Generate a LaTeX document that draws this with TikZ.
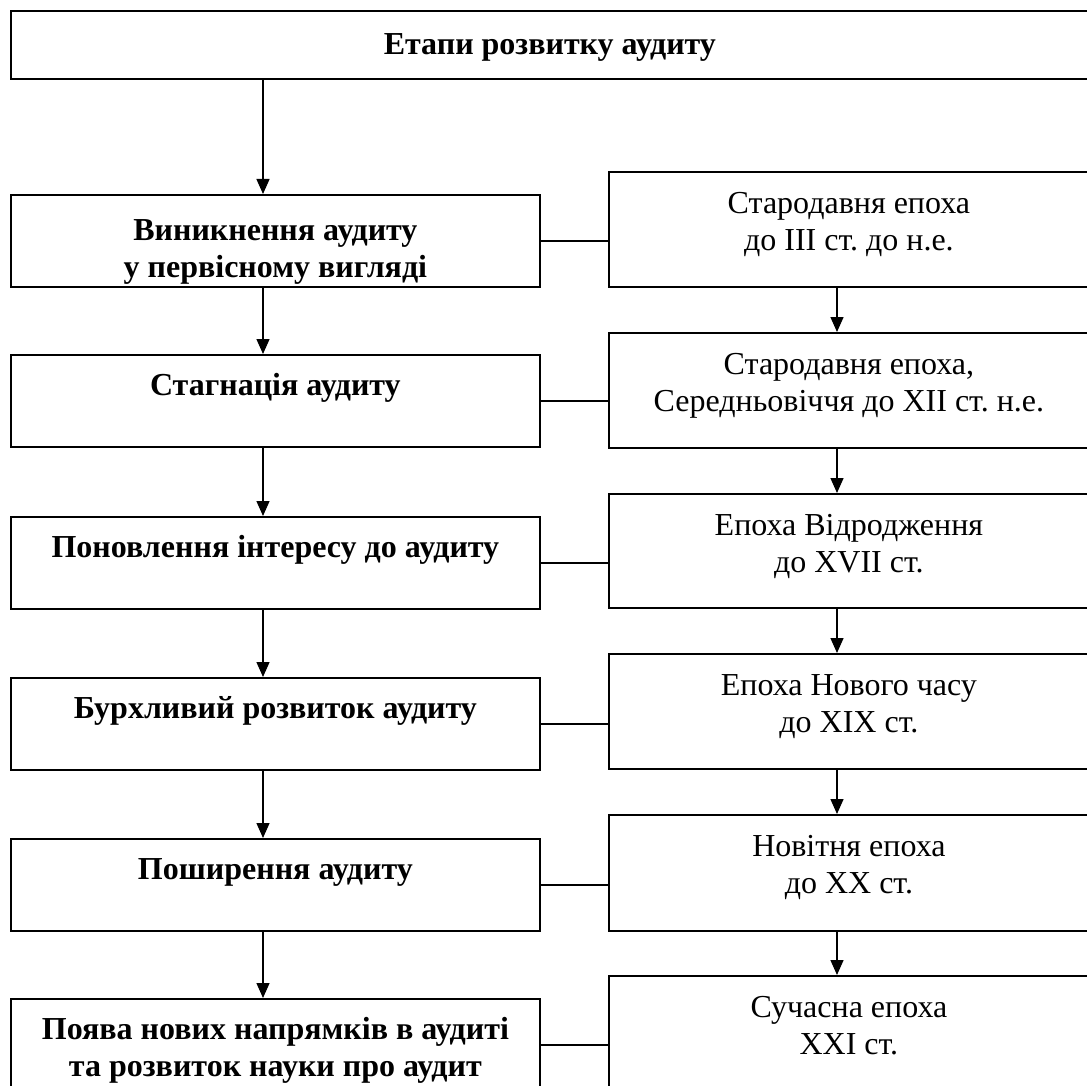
\documentclass[tikz,border=0pt]{standalone}
\usepackage{fontspec}
\setmainfont{Liberation Serif}
\usetikzlibrary{arrows.meta,calc}
\frenchspacing
\begin{document}
\begin{tikzpicture}[x=1pt,y=-1pt,
  boxstyle/.style={draw, line width=1.8pt, rectangle, inner sep=0pt, anchor=north west},
  txt/.style={anchor=north, inner sep=0pt, align=center, font=\fontsize{32}{37.5}\selectfont,
    execute at begin node=\rule{0pt}{24pt}},
  btxt/.style={txt, font=\fontsize{32}{37.5}\selectfont\bfseries},
  arr/.style={line width=1.4pt, -{Triangle[length=15pt,width=13pt]}},
  conn/.style={line width=2pt}]
\useasboundingbox (0,0) rectangle (1087,1086);
\clip (0,0) rectangle (1087,1086);
% top box
\node[boxstyle, minimum width=1078pt, minimum height=68pt] (top) at (10,10) {};
\node[btxt] (ttop) at ($(top.north)+(0,20)$) {Етапи розвитку аудиту};
% left boxes
\node[boxstyle, minimum width=529pt, minimum height=92pt] (L1) at (10,194) {};
\node[boxstyle, minimum width=529pt, minimum height=92pt] (L2) at (10,354) {};
\node[boxstyle, minimum width=529pt, minimum height=92pt] (L3) at (10,516) {};
\node[boxstyle, minimum width=529pt, minimum height=92pt] (L4) at (10,677) {};
\node[boxstyle, minimum width=529pt, minimum height=92pt] (L5) at (10,838) {};
\node[boxstyle, minimum width=529pt, minimum height=92pt] (L6) at (10,998) {};
% right boxes
\node[boxstyle, minimum width=480pt, minimum height=115pt] (R1) at (608,171) {};
\node[boxstyle, minimum width=480pt, minimum height=115pt] (R2) at (608,332) {};
\node[boxstyle, minimum width=480pt, minimum height=114pt] (R3) at (608,493) {};
\node[boxstyle, minimum width=480pt, minimum height=115pt] (R4) at (608,653) {};
\node[boxstyle, minimum width=480pt, minimum height=116pt] (R5) at (608,814) {};
\node[boxstyle, minimum width=480pt, minimum height=116pt] (R6) at (608,975) {};
% texts left
\node[btxt] (tL1) at ($(L1.north)+(0,25)$) {Виникнення аудиту\\у первісному вигляді};
\node[btxt] (tL2) at ($(L2.north)+(0,17)$) {Стагнація аудиту};
\node[btxt] (tL3) at ($(L3.north)+(0,17)$) {Поновлення інтересу до аудиту};
\node[btxt] (tL4) at ($(L4.north)+(0,17)$) {Бурхливий розвиток аудиту};
\node[btxt] (tL5) at ($(L5.north)+(0,17)$) {Поширення аудиту};
\node[btxt] (tL6) at ($(L6.north)+(0,19)$) {Поява нових напрямків в аудиті\\та розвиток науки про аудит};
% texts right
\node[txt] (tR1) at ($(R1.north)+(0,21)$) {Стародавня епоха\\до III ст. до н.е.};
\node[txt] (tR2) at ($(R2.north)+(0,21)$) {Стародавня епоха,\\Середньовіччя до XII ст. н.е.};
\node[txt] (tR3) at ($(R3.north)+(0,21)$) {Епоха Відродження\\до XVII ст.};
\node[txt] (tR4) at ($(R4.north)+(0,21)$) {Епоха Нового часу\\до XIX ст.};
\node[txt] (tR5) at ($(R5.north)+(0,21)$) {Новітня епоха\\до XX ст.};
\node[txt] (tR6) at ($(R6.north)+(0,21)$) {Сучасна епоха\\XXI ст.};
% arrow columns
\coordinate (lx) at (263,0);
\coordinate (rx) at (837,0);
\draw[arr] (top.south -| lx) -- (L1.north -| lx);
\draw[arr] (L1.south -| lx) -- (L2.north -| lx);
\draw[arr] (L2.south -| lx) -- (L3.north -| lx);
\draw[arr] (L3.south -| lx) -- (L4.north -| lx);
\draw[arr] (L4.south -| lx) -- (L5.north -| lx);
\draw[arr] (L5.south -| lx) -- (L6.north -| lx);
\draw[arr] (R1.south -| rx) -- (R2.north -| rx);
\draw[arr] (R2.south -| rx) -- (R3.north -| rx);
\draw[arr] (R3.south -| rx) -- (R4.north -| rx);
\draw[arr] (R4.south -| rx) -- (R5.north -| rx);
\draw[arr] (R5.south -| rx) -- (R6.north -| rx);
% horizontal connectors
\draw[conn] (L1.east) -- (L1.east -| R1.west);
\draw[conn] (L2.east) -- (L2.east -| R2.west);
\draw[conn] (L3.east) -- (L3.east -| R3.west);
\draw[conn] (L4.east) -- (L4.east -| R4.west);
\draw[conn] (L5.east) -- (L5.east -| R5.west);
\draw[conn] (L6.east) -- (L6.east -| R6.west);
\end{tikzpicture}
\end{document}
